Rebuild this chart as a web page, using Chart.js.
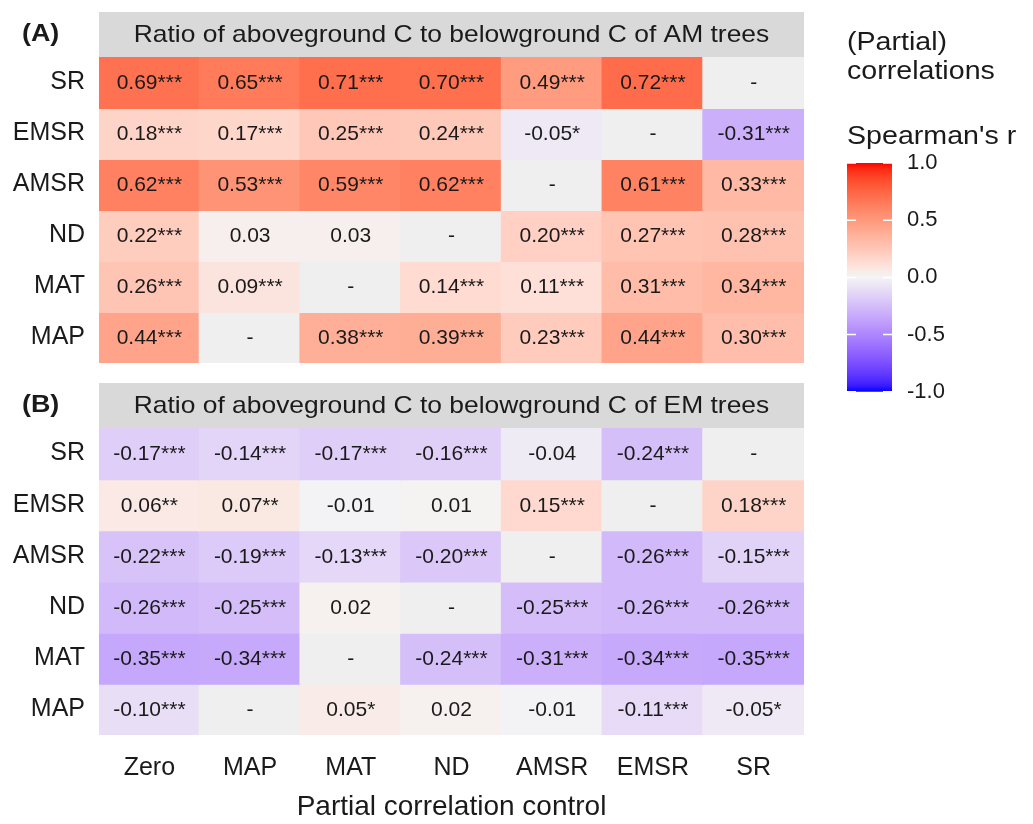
<!DOCTYPE html>
<html>
<head>
<meta charset="utf-8">
<script src="https://cdn.jsdelivr.net/npm/chart.js@4.4.0/dist/chart.umd.min.js"></script>
<style>
body { margin: 0; background: #fff; }
#wrap { position: relative; width: 1033px; height: 824px; }
canvas { position: absolute; }
</style>
</head>
<body>
<div id="wrap">
<canvas id="chartA" width="1033" height="392" style="left:0;top:0"></canvas>
<canvas id="chartB" width="1033" height="454" style="left:0;top:370px"></canvas>
<canvas id="legend" width="213" height="420" style="left:820px;top:0"></canvas>
</div>
<script>
// columns = variable controlled for, rows = predictor
const controls = ['Zero', 'MAP', 'MAT', 'ND', 'AMSR', 'EMSR', 'SR'];
const predictors = ['SR', 'EMSR', 'AMSR', 'ND', 'MAT', 'MAP'];

// (A) AM trees, null = "-"
const amSR   = [0.69, 0.65, 0.71, 0.70, 0.49, 0.72, null];
const amEMSR = [0.18, 0.17, 0.25, 0.24, -0.05, null, -0.31];
const amAMSR = [0.62, 0.53, 0.59, 0.62, null, 0.61, 0.33];
const amND   = [0.22, 0.03, 0.03, null, 0.20, 0.27, 0.28];
const amMAT  = [0.26, 0.09, null, 0.14, 0.11, 0.31, 0.34];
const amMAP  = [0.44, null, 0.38, 0.39, 0.23, 0.44, 0.30];

const amSRSig   = ['***', '***', '***', '***', '***', '***', ''];
const amEMSRSig = ['***', '***', '***', '***', '*', '', '***'];
const amAMSRSig = ['***', '***', '***', '***', '', '***', '***'];
const amNDSig   = ['***', '', '', '', '***', '***', '***'];
const amMATSig  = ['***', '***', '', '***', '***', '***', '***'];
const amMAPSig  = ['***', '', '***', '***', '***', '***', '***'];

// (B) EM trees
const emSR   = [-0.17, -0.14, -0.17, -0.16, -0.04, -0.24, null];
const emEMSR = [0.06, 0.07, -0.01, 0.01, 0.15, null, 0.18];
const emAMSR = [-0.22, -0.19, -0.13, -0.20, null, -0.26, -0.15];
const emND   = [-0.26, -0.25, 0.02, null, -0.25, -0.26, -0.26];
const emMAT  = [-0.35, -0.34, null, -0.24, -0.31, -0.34, -0.35];
const emMAP  = [-0.10, null, 0.05, 0.02, -0.01, -0.11, -0.05];

const emSRSig   = ['***', '***', '***', '***', '', '***', ''];
const emEMSRSig = ['**', '**', '', '', '***', '', '***'];
const emAMSRSig = ['***', '***', '***', '***', '', '***', '***'];
const emNDSig   = ['***', '***', '', '', '***', '***', '***'];
const emMATSig  = ['***', '***', '', '***', '***', '***', '***'];
const emMAPSig  = ['***', '', '*', '', '', '***', '*'];

const legendTicks = [-1, -0.5, 0, 0.5, 1];

const FONT = '"Liberation Sans", Arial, sans-serif';
const TXT = '#1a1a1a';
Chart.defaults.font.family = FONT;
Chart.defaults.color = TXT;

// colour scale like ggplot gradient2 (Lab interpolation)
function toLab(hex) {
    let c = [1, 3, 5].map(k => parseInt(hex.substr(k, 2), 16) / 255)
        .map(v => v <= 0.04045 ? v / 12.92 : Math.pow((v + 0.055) / 1.055, 2.4));
    let x = (0.4124 * c[0] + 0.3576 * c[1] + 0.1805 * c[2]) / 0.95047;
    let y = 0.2126 * c[0] + 0.7152 * c[1] + 0.0722 * c[2];
    let z = (0.0193 * c[0] + 0.1192 * c[1] + 0.9505 * c[2]) / 1.08883;
    let f = t => t > 0.008856 ? Math.cbrt(t) : 7.787 * t + 16 / 116;
    return [116 * f(y) - 16, 500 * (f(x) - f(y)), 200 * (f(y) - f(z))];
}
function fromLab(L, a, b) {
    let fy = (L + 16) / 116, fx = fy + a / 500, fz = fy - b / 200;
    let inv = t => t * t * t > 0.008856 ? t * t * t : (t - 16 / 116) / 7.787;
    let x = inv(fx) * 0.95047, y = inv(fy), z = inv(fz) * 1.08883;
    let rgb = [
        3.2406 * x - 1.5372 * y - 0.4986 * z,
        -0.9689 * x + 1.8758 * y + 0.0415 * z,
        0.0557 * x - 0.2040 * y + 1.0570 * z
    ].map(v => v <= 0.0031308 ? 12.92 * v : 1.055 * Math.pow(Math.max(v, 0), 1 / 2.4) - 0.055)
     .map(v => Math.round(Math.min(1, Math.max(0, v)) * 255));
    return 'rgb(' + rgb.join(',') + ')';
}
const labLow = toLab('#0000ff'), labMid = toLab('#f4f4f4'), labHigh = toLab('#ff0000');
function fillFor(v) {
    if (v === null) return '#efefef';
    let end = v >= 0 ? labHigh : labLow;
    let t = Math.min(1, Math.abs(v));
    return fromLab(labMid[0] + (end[0] - labMid[0]) * t,
                   labMid[1] + (end[1] - labMid[1]) * t,
                   labMid[2] + (end[2] - labMid[2]) * t);
}

function wideText(ctx, text, x, y, font, align, sx) {
    ctx.save();
    ctx.font = font;
    ctx.fillStyle = TXT;
    ctx.textAlign = align;
    ctx.textBaseline = 'middle';
    ctx.translate(x, y);
    ctx.scale(sx, 1);
    ctx.fillText(text, 0, 0);
    ctx.restore();
}

const stripPlugin = {
    id: 'strip',
    beforeDraw(chart, args, opts) {
        const a = chart.chartArea;
        const ctx = chart.ctx;
        ctx.save();
        ctx.fillStyle = '#d9d9d9';
        ctx.fillRect(a.left, a.top - 45, a.right - a.left, 45);
        ctx.restore();
        wideText(ctx, opts.title, (a.left + a.right) / 2, a.top - 22, '24px ' + FONT, 'center', 1.1);
        wideText(ctx, opts.tag, 22, a.top - 23, 'bold 24px ' + FONT, 'left', 1.12);
    }
};

const cellPlugin = {
    id: 'cells',
    afterDatasetsDraw(chart) {
        const ctx = chart.ctx;
        ctx.save();
        ctx.font = '21px ' + FONT;
        ctx.fillStyle = TXT;
        ctx.textAlign = 'center';
        ctx.textBaseline = 'middle';
        chart.data.datasets.forEach((ds, i) => {
            chart.getDatasetMeta(i).data.forEach((bar, j) => {
                const c = bar.getCenterPoint();
                ctx.fillText(ds.cellText[j], c.x, c.y + 1);
            });
        });
        ctx.restore();
    }
};

function makePanel(id, rows, sigs, title, tag, showX) {
    const datasets = rows.map((vals, i) => ({
        label: predictors[i],
        data: controls.map(() => 1),
        backgroundColor: vals.map(fillFor),
        cellText: vals.map((v, j) => v === null ? '-' : v.toFixed(2) + sigs[i][j]),
        borderWidth: 0,
        inflateAmount: 1,
        barPercentage: 1,
        categoryPercentage: 1
    }));
    return new Chart(document.getElementById(id), {
        type: 'bar',
        data: { labels: controls, datasets: datasets },
        options: {
            responsive: false,
            animation: false,
            layout: { padding: { left: 0, right: 229, top: showX ? 58 : 57, bottom: showX ? 0 : 7 } },
            plugins: {
                legend: { display: false },
                tooltip: { enabled: false },
                strip: { title: title, tag: tag }
            },
            scales: {
                x: {
                    stacked: true,
                    display: showX,
                    grid: { display: false, drawTicks: false },
                    border: { display: false },
                    ticks: { font: { size: 25 }, padding: 18, color: TXT },
                    title: { display: true, text: 'Partial correlation control', font: { size: 28 }, color: TXT, padding: { top: 0, bottom: 0 } },
                    afterFit: s => { s.height = showX ? 89 : 0; }
                },
                y: {
                    stacked: true,
                    reverse: true,
                    min: 0,
                    max: 6,
                    grid: { display: false, drawTicks: false },
                    border: { display: false },
                    ticks: { font: { size: 25 }, padding: 14, autoSkip: false, color: TXT,
                             callback: (v, i) => predictors[i] },
                    afterBuildTicks: s => { s.ticks = predictors.map((p, i) => ({ value: i + 0.5 })); },
                    afterFit: s => { s.width = 99; }
                }
            }
        },
        plugins: [stripPlugin, cellPlugin]
    });
}

makePanel('chartA', [amSR, amEMSR, amAMSR, amND, amMAT, amMAP],
    [amSRSig, amEMSRSig, amAMSRSig, amNDSig, amMATSig, amMAPSig],
    'Ratio of aboveground C to belowground C of AM trees', '(A)', false);
makePanel('chartB', [emSR, emEMSR, emAMSR, emND, emMAT, emMAP],
    [emSRSig, emEMSRSig, emAMSRSig, emNDSig, emMATSig, emMAPSig],
    'Ratio of aboveground C to belowground C of EM trees', '(B)', true);

// colour bar legend
function barGradient(chart) {
    const y = chart.scales.y;
    if (!chart.chartArea || !y) return null;
    const g = chart.ctx.createLinearGradient(0, y.getPixelForValue(1), 0, y.getPixelForValue(-1));
    for (let k = 0; k <= 40; k++) {
        g.addColorStop(k / 40, fillFor(1 - k / 20));
    }
    return g;
}

const legendTextPlugin = {
    id: 'legendText',
    afterDraw(chart) {
        const ctx = chart.ctx;
        wideText(ctx, '(Partial)', 27, 43, '26px ' + FONT, 'left', 1.1);
        wideText(ctx, 'correlations', 27, 72, '26px ' + FONT, 'left', 1.1);
        wideText(ctx, "Spearman's r", 27, 137, '26px ' + FONT, 'left', 1.1);
    },
    afterDatasetsDraw(chart) {
        const ctx = chart.ctx;
        const a = chart.chartArea;
        const y = chart.scales.y;
        ctx.save();
        ctx.strokeStyle = '#ffffff';
        ctx.lineWidth = 1.5;
        legendTicks.forEach(v => {
            const py = y.getPixelForValue(v);
            ctx.beginPath();
            ctx.moveTo(a.left, py); ctx.lineTo(a.left + 9, py);
            ctx.moveTo(a.right - 9, py); ctx.lineTo(a.right, py);
            ctx.stroke();
        });
        ctx.restore();
    }
};

new Chart(document.getElementById('legend'), {
    type: 'bar',
    data: {
        labels: [''],
        datasets: [{
            data: [[-1, 1]],
            backgroundColor: c => barGradient(c.chart),
            borderWidth: 0,
            barPercentage: 1,
            categoryPercentage: 1
        }]
    },
    options: {
        responsive: false,
        animation: false,
        layout: { padding: { left: 27, right: 0, top: 163, bottom: 26 } },
        plugins: { legend: { display: false }, tooltip: { enabled: false } },
        scales: {
            x: { display: false },
            y: {
                position: 'right',
                min: -1,
                max: 1,
                grid: { display: false, drawTicks: false },
                border: { display: false },
                afterBuildTicks: s => { s.ticks = legendTicks.map(v => ({ value: v })); },
                ticks: { padding: 15, font: { size: 22 }, color: TXT, callback: v => v.toFixed(1) },
                afterFit: s => { s.width = 141; }
            }
        }
    },
    plugins: [legendTextPlugin]
});
</script>
</body>
</html>
